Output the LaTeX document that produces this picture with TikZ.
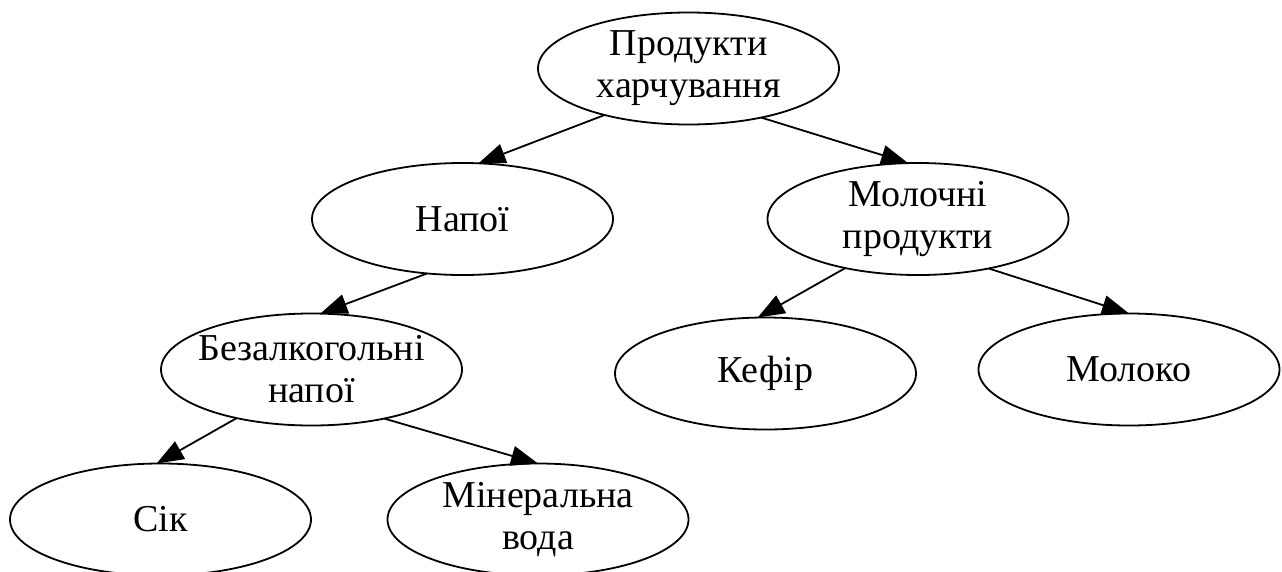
\documentclass[tikz,border=0pt]{standalone}
\usepackage{fontspec}
\setmainfont{Liberation Serif}
\usetikzlibrary{shapes.geometric,arrows.meta}
\begin{document}
\begin{tikzpicture}[x=1pt,y=-1pt,
  ell/.style={ellipse,draw,line width=1.8pt,minimum width=301pt,minimum height=112pt,inner sep=0pt,outer sep=0pt},
  lbl/.style={font=\fontsize{38}{42}\selectfont,align=center,inner sep=0pt},
  edge/.style={line width=1.8pt,-{Triangle[length=27pt,width=20pt]}}]
\useasboundingbox (0,0) rectangle (1282,571);
\clip (0,0) rectangle (1282,571);
\node[ell] (root) at (688.5,68.5) {};
\node[lbl] (rootT) at (root) {Продукти\\харчування};
\node[ell] (napoi) at (462.5,219) {};
\node[lbl] (napoiT) at (napoi) {Напої};
\node[ell] (moloch) at (918,219) {};
\node[lbl] (molochT) at (moloch) {Молочні\\продукти};
\node[ell] (bezalk) at (311.5,369.5) {};
\node[lbl] (bezalkT) at (bezalk) {Безалкогольні\\напої};
\node[ell] (kefir) at (765.5,373.5) {};
\node[lbl] (kefirT) at (kefir) {Кефір};
\node[ell] (moloko) at (1129,369.5) {};
\node[lbl] (molokoT) at (moloko) {Молоко};
\node[ell] (sik) at (160.5,519.5) {};
\node[lbl] (sikT) at (sik) {Сік};
\node[ell] (miner) at (538,519.5) {};
\node[lbl] (minerT) at (miner) {Мінеральна\\вода};
\draw[edge] (root.209.6) -- (napoi.74.8);
\draw[edge] (root.326.9) -- (moloch.100.9);
\draw[edge] (napoi.237.6) -- (bezalk.81.4);
\draw[edge] (moloch.214.9) -- (kefir.98.4);
\draw[edge] (moloch.325.4) -- (moloko.90);
\draw[edge] (bezalk.213.1) -- (sik.94.6);
\draw[edge] (bezalk.326) -- (miner.90);
\end{tikzpicture}
\end{document}
